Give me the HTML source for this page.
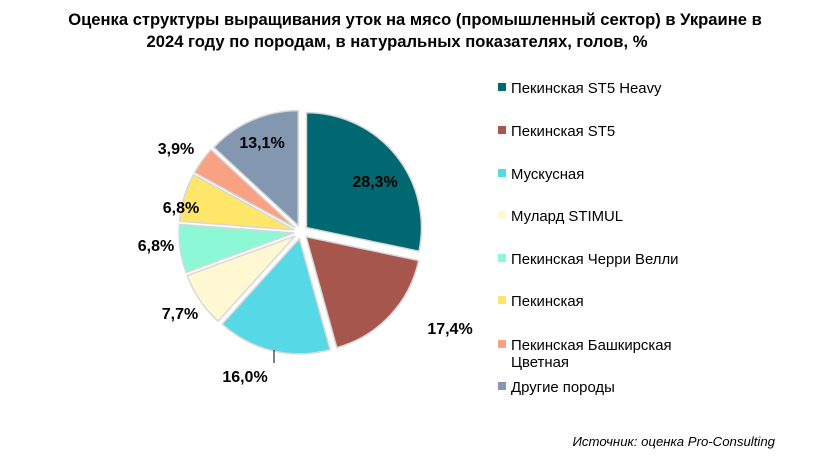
<!DOCTYPE html>
<html><head><meta charset="utf-8"><style>
body{margin:0;width:822px;height:465px;background:#fff;font-family:"Liberation Sans",sans-serif;overflow:hidden}
</style></head><body>
<svg id="s" width="822" height="465" xmlns="http://www.w3.org/2000/svg" font-family="Liberation Sans, sans-serif">
<text x="415" y="25" text-anchor="middle" font-size="16.6" font-weight="bold">Оценка структуры выращивания уток на мясо (промышленный сектор) в Украине в</text>
<text x="397" y="47" text-anchor="middle" font-size="16.6" font-weight="bold">2024 году по породам, в натуральных показателях, голов, %</text>
<g id="pie"></g>
<g font-size="16" font-weight="bold">
<text x="375" y="187" text-anchor="middle">28,3%</text>
<text x="450" y="334" text-anchor="middle">17,4%</text>
<text x="245" y="382" text-anchor="middle">16,0%</text>
<text x="180" y="319" text-anchor="middle">7,7%</text>
<text x="156" y="251" text-anchor="middle">6,8%</text>
<text x="181" y="213" text-anchor="middle">6,8%</text>
<text x="176" y="154" text-anchor="middle">3,9%</text>
<text x="262" y="148" text-anchor="middle">13,1%</text>
</g>
<line x1="274" y1="350" x2="274" y2="363" stroke="#000" stroke-width="1"/>
<g font-size="14.9" fill="#000">
<rect x="498" y="83" width="8" height="8" fill="#006870"/><text x="511" y="93">Пекинская ST5 Heavy</text>
<rect x="498" y="126" width="8" height="8" fill="#a6564c"/><text x="511" y="136">Пекинская ST5</text>
<rect x="498" y="169" width="8" height="8" fill="#56d8e6"/><text x="511" y="179">Мускусная</text>
<rect x="498" y="211" width="8" height="8" fill="#fff8d2"/><text x="511" y="221">Мулард STIMUL</text>
<rect x="498" y="254" width="8" height="8" fill="#8cf8d6"/><text x="511" y="264">Пекинская Черри Велли</text>
<rect x="498" y="296" width="8" height="8" fill="#fde66a"/><text x="511" y="306">Пекинская</text>
<rect x="498" y="340" width="8" height="8" fill="#f9a283"/><text x="511" y="350">Пекинская Башкирская</text><text x="511" y="367">Цветная</text>
<rect x="498" y="382" width="8" height="8" fill="#8497b0"/><text x="511" y="392">Другие породы</text>
</g>
<text x="775" y="446" text-anchor="end" font-size="13.2" font-style="italic">Источник: оценка Pro-Consulting</text>
</svg>
<script>
var d=[28.3,17.4,16.0,7.7,6.8,6.8,3.9,13.1],c=["#006870","#a6564c","#56d8e6","#fff8d2","#8cf8d6","#fde66a","#f9a283","#8497b0"];
var cx=301,cy=232,r=115,off=7,a=0,h="";
for(var i=0;i<8;i++){var a0=a/100*2*Math.PI,a1=(a+d[i])/100*2*Math.PI,m=(a0+a1)/2;a+=d[i];
var ox=cx+off*Math.sin(m),oy=cy-off*Math.cos(m);
var x0=ox+r*Math.sin(a0),y0=oy-r*Math.cos(a0),x1=ox+r*Math.sin(a1),y1=oy-r*Math.cos(a1);
h+='<path d="M'+ox+' '+oy+'L'+x0+' '+y0+'A'+r+' '+r+' 0 '+(d[i]>50?1:0)+' 1 '+x1+' '+y1+'Z" fill="'+c[i]+'" stroke="#d8d8d8" stroke-width="1.5"/>';}
document.getElementById("pie").innerHTML=h;
</script>
</body></html>
